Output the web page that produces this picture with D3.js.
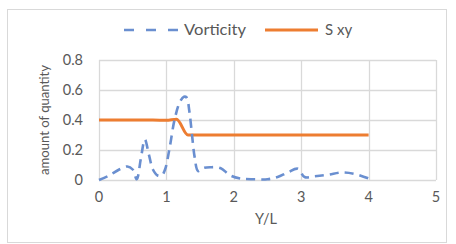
<!DOCTYPE html>
<html><head><meta charset="utf-8">
<script src="https://cdn.jsdelivr.net/npm/d3@7"></script>
<style>body{margin:0;background:#fff}svg{display:block}</style>
</head><body>
<svg id="c" width="456" height="244"></svg>
<script>
const vortX = [0,0.15,0.3,0.42,0.5,0.56,0.62,0.68,0.74,0.8,0.87,0.93,0.98,1.05,1.12,1.2,1.26,1.3,1.34,1.38,1.42,1.47,1.55,1.65,1.8,1.95,2.1,2.3,2.5,2.65,2.8,2.95,3.05,3.2,3.4,3.6,3.8,4.0];
const vortY = [0,0.03,0.07,0.09,0.07,0.005,0.14,0.27,0.17,0.07,0.03,0.03,0.07,0.22,0.4,0.52,0.555,0.55,0.46,0.3,0.15,0.06,0.08,0.085,0.08,0.03,0.01,0.005,0.005,0.02,0.05,0.075,0.02,0.025,0.035,0.05,0.04,0.01];
const sxyX = [0,0.8,1.0,1.15,1.32,1.4,4];
const sxyY = [0.4,0.4,0.398,0.405,0.3,0.3,0.3];
const xTicks = [0,1,2,3,4,5];
const yTicks = [0,0.2,0.4,0.6,0.8];
const seriesNames = ["Vorticity","S xy"];

const svg = d3.select("#c");
const font = "Lato, 'Open Sans', sans-serif";
const gray = "#595959";
svg.append("rect").attr("x",7.5).attr("y",9.5).attr("width",439).attr("height",233)
  .attr("fill","#fff").attr("stroke","#d9d9d9");

const x = d3.scaleLinear().domain([0,5]).range([99,436]);
const y = d3.scaleLinear().domain([0,0.8]).range([180,60]);

// grid
svg.append("g").selectAll("line").data(yTicks).join("line")
  .attr("x1",x(0)).attr("x2",x(5)).attr("y1",d=>y(d)+0.5).attr("y2",d=>y(d)+0.5)
  .attr("stroke","#d9d9d9").attr("stroke-width",1.3);
svg.append("g").selectAll("line").data(xTicks).join("line")
  .attr("y1",y(0)).attr("y2",y(0.8)).attr("x1",d=>Math.round(x(d))+0.5).attr("x2",d=>Math.round(x(d))+0.5)
  .attr("stroke","#d9d9d9").attr("stroke-width",1.3);

// axes labels
svg.append("g").selectAll("text").data(yTicks).join("text")
  .attr("x",83).attr("y",d=>y(d)+5).attr("text-anchor","end")
  .attr("font-family",font).attr("font-size",14.5).attr("fill",gray)
  .text(d=>d===0?"0":d3.format(".1f")(d));
svg.append("g").selectAll("text").data(xTicks).join("text")
  .attr("x",d=>x(d)).attr("y",202).attr("text-anchor","middle")
  .attr("font-family",font).attr("font-size",14.5).attr("fill",gray)
  .text(d=>d);
svg.append("text").attr("x",266).attr("y",224).attr("text-anchor","middle")
  .attr("font-family",font).attr("font-size",14.5).attr("fill",gray).text("Y/L");
svg.append("text").attr("transform","translate(49,120) rotate(-90)").attr("text-anchor","middle")
  .attr("font-family",font).attr("font-size",13.5).attr("fill",gray)
  .attr("textLength",110).attr("lengthAdjust","spacingAndGlyphs").text("amount of quantity");

// lines
const vort = vortX.map((v,i)=>[v,vortY[i]]);
const sxy = sxyX.map((v,i)=>[v,sxyY[i]]);
svg.append("path").datum(sxy)
  .attr("d",d3.line().x(d=>x(d[0])).y(d=>y(d[1])).curve(d3.curveMonotoneX))
  .attr("fill","none").attr("stroke","#ED7D31").attr("stroke-width",3);
svg.append("path").datum(vort)
  .attr("d",d3.line().x(d=>x(d[0])).y(d=>y(d[1])).curve(d3.curveCatmullRom.alpha(0.5)))
  .attr("fill","none").attr("stroke","#6a8fd0").attr("stroke-width",2.6)
  .attr("stroke-dasharray","9,6");

// legend
svg.append("line").attr("x1",124).attr("x2",178).attr("y1",30).attr("y2",30)
  .attr("stroke","#6a8fd0").attr("stroke-width",2.6).attr("stroke-dasharray","10,12");
svg.append("text").attr("x",184).attr("y",35).attr("font-family",font).attr("font-size",15)
  .attr("fill",gray).attr("textLength",62).attr("lengthAdjust","spacingAndGlyphs").text(seriesNames[0]);
svg.append("line").attr("x1",265).attr("x2",318).attr("y1",30).attr("y2",30)
  .attr("stroke","#ED7D31").attr("stroke-width",3);
svg.append("text").attr("x",325).attr("y",35).attr("font-family",font).attr("font-size",15)
  .attr("fill",gray).text(seriesNames[1]);
</script>
</body></html>
